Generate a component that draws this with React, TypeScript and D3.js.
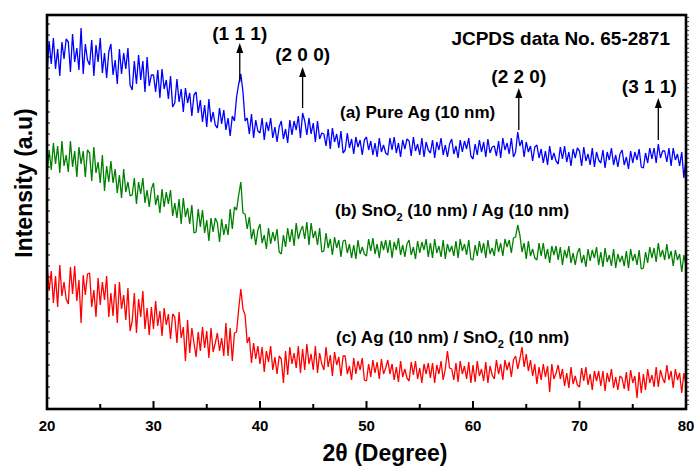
import React from "react";
import * as d3 from "d3";

const X_START = 20;
const X_STEP = 0.2;

// Intensity (a.u.) sampled every 0.2° from 20° to 80°
const pureAg = [
  334, 368, 345, 371, 340, 360, 333, 367, 350, 370,
  367, 337, 375, 347, 361, 339, 381, 335, 365, 349,
  344, 369, 333, 364, 347, 371, 336, 356, 331, 357,
  365, 334, 349, 325, 360, 335, 356, 340, 361, 324,
  319, 348, 325, 354, 329, 348, 317, 352, 323, 334,
  334, 317, 339, 311, 340, 320, 329, 310, 333, 302,
  306, 330, 307, 320, 297, 321, 306, 316, 293, 314,
  317, 296, 309, 287, 304, 282, 310, 287, 297, 284,
  281, 301, 285, 299, 279, 291, 273, 293, 288, 312,
  325, 335, 317, 288, 291, 275, 295, 271, 289, 278,
  276, 291, 269, 287, 278, 291, 271, 282, 267, 282,
  288, 270, 280, 266, 289, 274, 288, 279, 293, 271,
  296, 288, 274, 291, 275, 286, 267, 288, 270, 276,
  275, 263, 280, 260, 281, 267, 275, 261, 278, 256,
  259, 276, 261, 270, 255, 272, 262, 269, 254, 269,
  272, 259, 268, 254, 266, 252, 271, 257, 264, 256,
  254, 271, 259, 272, 256, 266, 252, 269, 260, 270,
  268, 253, 272, 258, 265, 254, 271, 252, 267, 259,
  256, 269, 251, 267, 259, 271, 254, 264, 252, 265,
  270, 255, 263, 251, 269, 257, 268, 260, 271, 253,
  250, 265, 254, 269, 257, 267, 252, 270, 256, 262,
  263, 253, 268, 251, 271, 259, 266, 255, 271, 252,
  257, 277, 263, 269, 252, 267, 257, 263, 248, 262,
  264, 251, 260, 246, 258, 244, 263, 249, 256, 248,
  245, 262, 250, 263, 247, 257, 243, 260, 251, 261,
  258, 243, 262, 248, 255, 244, 261, 242, 257, 249,
  246, 259, 241, 257, 249, 261, 244, 254, 242, 255,
  259, 244, 252, 240, 258, 246, 257, 249, 260, 242,
  241, 256, 246, 261, 250, 261, 246, 265, 251, 258,
  258, 247, 261, 243, 261, 249, 255, 243, 257, 231,
  250,
];

const sno2Ag = [
  232, 259, 239, 266, 245, 263, 236, 268, 243, 254,
  237, 268, 242, 258, 232, 262, 245, 258, 232, 259,
  256, 228, 262, 236, 247, 226, 254, 218, 243, 227,
  248, 226, 240, 216, 234, 211, 240, 217, 227, 213,
  214, 231, 205, 227, 215, 231, 206, 219, 202, 220,
  226, 204, 214, 196, 220, 202, 217, 205, 219, 193,
  206, 191, 210, 185, 211, 192, 201, 185, 204, 176,
  177, 200, 182, 199, 176, 189, 168, 191, 177, 191,
  186, 167, 190, 174, 185, 174, 200, 180, 202, 199,
  214, 227, 196, 195, 180, 192, 170, 180, 164, 179,
  185, 166, 174, 160, 181, 165, 177, 168, 180, 157,
  155, 174, 162, 181, 167, 180, 163, 186, 170, 178,
  183, 170, 187, 164, 186, 171, 178, 164, 181, 157,
  158, 176, 161, 170, 154, 172, 161, 169, 152, 168,
  169, 156, 165, 151, 164, 150, 169, 155, 162, 155,
  153, 170, 158, 171, 155, 165, 151, 168, 159, 169,
  156, 169, 151, 167, 159, 171, 154, 164, 152, 165,
  169, 154, 162, 150, 168, 156, 167, 159, 170, 152,
  166, 151, 170, 156, 163, 152, 169, 150, 165, 157,
  163, 153, 168, 151, 170, 158, 165, 154, 169, 150,
  149, 164, 153, 168, 156, 166, 151, 169, 155, 161,
  153, 170, 157, 166, 153, 170, 162, 169, 156, 171,
  172, 184, 174, 157, 166, 150, 168, 153, 160, 151,
  149, 166, 153, 166, 150, 160, 146, 163, 154, 163,
  149, 162, 144, 159, 151, 163, 146, 156, 144, 156,
  161, 146, 154, 142, 160, 148, 159, 151, 162, 144,
  157, 142, 161, 147, 154, 143, 160, 141, 155, 147,
  153, 143, 158, 141, 160, 148, 155, 144, 159, 140,
  141, 157, 146, 162, 151, 161, 147, 166, 152, 159,
  149, 165, 150, 158, 143, 159, 149, 155, 137, 154,
  143,
];

const agSno2 = [
  147, 118, 138, 106, 133, 102, 144, 113, 127, 110,
  105, 142, 115, 143, 108, 129, 86, 134, 114, 135,
  136, 102, 119, 92, 131, 104, 127, 109, 133, 92,
  116, 93, 125, 86, 127, 100, 114, 89, 121, 78,
  88, 116, 76, 110, 92, 118, 80, 101, 74, 102,
  80, 108, 83, 98, 73, 101, 84, 95, 70, 95,
  92, 66, 97, 71, 82, 48, 89, 56, 81, 66,
  52, 77, 58, 82, 61, 78, 51, 81, 57, 66,
  76, 58, 71, 53, 86, 53, 81, 48, 76, 77,
  100, 120, 100, 94, 66, 72, 46, 66, 50, 63,
  45, 62, 37, 58, 47, 63, 39, 52, 35, 53,
  50, 26, 58, 34, 62, 45, 56, 41, 63, 36,
  60, 39, 65, 45, 55, 39, 63, 36, 56, 45,
  39, 62, 42, 54, 33, 57, 44, 52, 33, 53,
  53, 35, 43, 29, 51, 35, 48, 39, 51, 29,
  28, 45, 32, 49, 36, 47, 30, 50, 35, 41,
  49, 35, 45, 29, 42, 27, 48, 32, 40, 31,
  28, 47, 34, 48, 30, 41, 26, 45, 35, 46,
  31, 46, 26, 44, 35, 48, 29, 40, 58, 41,
  40, 29, 46, 27, 48, 35, 43, 30, 47, 26,
  44, 27, 48, 33, 40, 28, 47, 26, 43, 34,
  30, 49, 35, 45, 29, 49, 39, 47, 32, 49,
  53, 40, 50, 62, 42, 55, 38, 49, 33, 45,
  25, 42, 29, 45, 32, 43, 17, 45, 30, 36,
  44, 30, 40, 23, 36, 21, 42, 25, 33, 24,
  22, 41, 28, 42, 24, 35, 19, 38, 28, 38,
  23, 38, 18, 36, 27, 40, 21, 32, 19, 33,
  31, 20, 37, 18, 39, 26, 33, 11, 37, 16,
  35, 19, 40, 26, 34, 22, 42, 22, 39, 31,
  26, 44, 29, 38, 21, 40, 29, 36, 16, 36,
  25,
];

const seriesColors = ["#0000FF", "#008000", "#FF0000"];
const xTickValues = [20, 30, 40, 50, 60, 70, 80];
const xMinorTicks = [25, 35, 45, 55, 65, 75];

const peakLabels = ["(1 1 1)", "(2 0 0)", "(2 2 0)", "(3 1 1)"];
const peakPositions = [38.1, 44.0, 64.3, 77.4];
const peakArrowBase = [327, 301, 279, 269];
const peakArrowTip = [366, 342, 321, 311];
const peakLabelY = [369, 348, 326, 316];
const peakLabelDx = [0, 0, 0, -9];

const W = 694;
const H = 466;
const left = 47;
const right = 686;
const top = 15;
const bottom = 409;

const FONT = "'Liberation Sans', Arial, Helvetica, sans-serif";

export default function App() {
  const x = d3.scaleLinear().domain([20, 80]).range([left, right]);
  const y = d3.scaleLinear().domain([0, 394]).range([bottom, top]);

  const line = d3
    .line<number>()
    .x((_, i) => x(X_START + i * X_STEP))
    .y((d) => y(d));

  const series = [pureAg, sno2Ag, agSno2];

  const leftTicks = d3.range(bottom - 11, top, -11);
  const rightTicks = d3.range(bottom - 4.4, top + 2, -4.4);

  return (
    <svg
      width={W}
      height={H}
      style={{ position: "absolute", left: 0, top: 0, background: "#fff" }}
      fontFamily={FONT}
      fontWeight="bold"
    >
      <rect x={0} y={0} width={W} height={H} fill="#fff" />
      {series.map((s, k) => (
        <path
          key={k}
          d={line(s) || ""}
          fill="none"
          stroke={seriesColors[k]}
          strokeWidth={1.3}
          strokeLinejoin="bevel"
        />
      ))}

      {peakPositions.map((p, i) => {
        const px = x(p);
        const yb = y(peakArrowBase[i]);
        const yt = y(peakArrowTip[i]);
        return (
          <g key={i}>
            <line x1={px} x2={px} y1={yb} y2={yt + 8} stroke="#000" strokeWidth={1.3} />
            <path d={`M${px},${yt} L${px - 3.5},${yt + 10} L${px + 3.5},${yt + 10} Z`} fill="#000" />
            <text x={px + peakLabelDx[i]} y={y(peakLabelY[i])} fontSize={19} textAnchor="middle" fill="#000">
              {peakLabels[i]}
            </text>
          </g>
        );
      })}

      <text x={670} y={45} fontSize={19} textAnchor="end" fill="#000">
        JCPDS data No. 65-2871
      </text>

      <text x={340} y={118} fontSize={17} fill="#000">
        (a) Pure Ag (10 nm)
      </text>
      <text x={335} y={216} fontSize={17} fill="#000">
        (b) SnO<tspan fontSize={11} dy={5}>2</tspan>
        <tspan dy={-5}> (10 nm) / Ag (10 nm)</tspan>
      </text>
      <text x={336} y={343} fontSize={17} fill="#000">
        (c) Ag (10 nm) / SnO<tspan fontSize={11} dy={5}>2</tspan>
        <tspan dy={-5}> (10 nm)</tspan>
      </text>

      <rect
        x={left}
        y={top}
        width={right - left}
        height={bottom - top}
        fill="none"
        stroke="#000"
        strokeWidth={2.6}
      />

      {leftTicks.map((t, i) => (
        <line key={"l" + i} x1={left} x2={left + 3} y1={t} y2={t} stroke="#000" strokeWidth={1} />
      ))}
      {rightTicks.map((t, i) => (
        <line key={"r" + i} x1={right} x2={right + 3} y1={t} y2={t} stroke="#000" strokeWidth={0.8} />
      ))}

      {xTickValues.map((t) => (
        <g key={t}>
          <line x1={x(t)} x2={x(t)} y1={bottom} y2={bottom - 8} stroke="#000" strokeWidth={2} />
          <text x={x(t)} y={431} fontSize={15} textAnchor="middle" fill="#000">
            {t}
          </text>
        </g>
      ))}
      {xMinorTicks.map((t) => (
        <line key={t} x1={x(t)} x2={x(t)} y1={bottom} y2={bottom - 5} stroke="#000" strokeWidth={2} />
      ))}

      <text x={385} y={461} fontSize={23} textAnchor="middle" fill="#000">
        2θ (Degree)
      </text>
      <text transform={`translate(32, 183) rotate(-90)`} fontSize={23} textAnchor="middle" fill="#000">
        Intensity (a.u)
      </text>
    </svg>
  );
}
